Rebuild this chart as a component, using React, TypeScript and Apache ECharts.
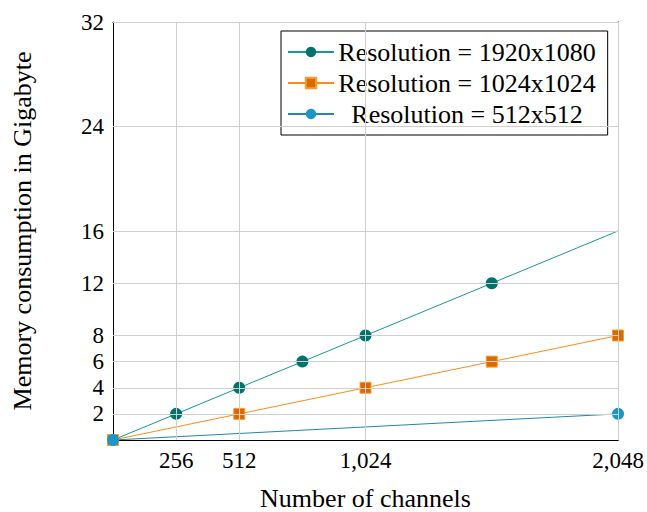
import React, { useEffect, useRef } from "react";
import * as echarts from "echarts";

const channelsHD = [0, 256, 512, 768, 1024, 1536, 2048];
const memoryHD = [0, 2, 4, 6, 8, 12, 16];
const channels1024 = [0, 512, 1024, 1536, 2048];
const memory1024 = [0, 2, 4, 6, 8];
const channels512 = [0, 2048];
const memory512 = [0, 2];

const xTicks = [256, 512, 1024, 2048];
const yTicks = [2, 4, 6, 8, 12, 16, 24, 32];
const seriesNames = [
  "Resolution = 1920x1080",
  "Resolution = 1024x1024",
  "Resolution = 512x512",
];

const FONT = "Liberation Serif";
const WORD_SIZE = 26;
const NUM_SIZE = 23;

export default function App() {
  const ref = useRef<HTMLDivElement>(null);
  useEffect(() => {
    if (!ref.current) return;
    const chart = echarts.init(ref.current, null, { renderer: "svg" });
    const fmtX = (v: number) => v.toLocaleString("en-US");
    const tickStyle = { show: true, inside: true, length: 8, lineStyle: { color: "#777", width: 1 } };
    const xBase = {
      type: "value",
      min: 0,
      max: 2048,
      splitLine: { show: false },
      axisLine: { show: true, onZero: false, lineStyle: { color: "#000", width: 1 } },
      z: 1,
    };
    const yBase = {
      type: "value",
      min: 0,
      max: 32,
      splitLine: { show: false },
      axisLine: { show: true, onZero: false, lineStyle: { color: "#000", width: 1 } },
      z: 1,
    };
    const zip = (xs: number[], ys: number[]) => xs.map((x, i) => [x, ys[i]]);
    const hdData: any[] = zip(channelsHD, memoryHD).map((p, i, arr) =>
      i === arr.length - 1 ? { value: p, symbol: "none" } : p
    );
    chart.setOption({
      animation: false,
      textStyle: { fontFamily: FONT },
      grid: { left: 113, right: 29, top: 22, bottom: 72, containLabel: false, outerBoundsMode: "none" },
      xAxis: [
        {
          ...xBase,
          position: "bottom",
          name: "Number of channels",
          nameLocation: "middle",
          nameGap: 45,
          nameTextStyle: { fontFamily: FONT, fontSize: WORD_SIZE, color: "#000" },
          axisTick: { ...tickStyle, customValues: xTicks },
          axisLabel: {
            customValues: xTicks,
            formatter: fmtX,
            fontFamily: FONT,
            fontSize: NUM_SIZE,
            color: "#000",
            margin: 9,
          },
        },
        {
          ...xBase,
          position: "top",
          axisTick: { ...tickStyle, customValues: xTicks },
          axisLabel: { show: false },
        },
      ],
      yAxis: [
        {
          ...yBase,
          position: "left",
          name: "Memory consumption in Gigabyte",
          nameLocation: "middle",
          nameGap: 78,
          nameTextStyle: { fontFamily: FONT, fontSize: WORD_SIZE, color: "#000" },
          axisTick: { ...tickStyle, customValues: yTicks },
          axisLabel: {
            customValues: yTicks,
            fontFamily: FONT,
            fontSize: NUM_SIZE,
            color: "#000",
            margin: 9,
          },
        },
        {
          ...yBase,
          position: "right",
          axisTick: { ...tickStyle, customValues: yTicks },
          axisLabel: { show: false },
        },
      ],
      legend: {
        data: seriesNames,
        orient: "vertical",
        left: 281,
        top: 31,
        padding: [8, 12, 8, 6],
        itemGap: 5,
        itemWidth: 46,
        itemHeight: 13,
        backgroundColor: "#fff",
        borderColor: "#000",
        borderWidth: 1,
        borderRadius: 0,
        formatter: (name: string) => `{c|${name}}`,
        textStyle: {
          fontFamily: FONT,
          fontSize: WORD_SIZE,
          color: "#000",
          rich: {
            c: { width: 256, height: 25, align: "center", fontFamily: FONT, fontSize: WORD_SIZE, color: "#000" },
          },
        },
      },
      series: [
        {
          type: "line",
          name: "grid",
          data: [],
          z: 0,
          silent: true,
          markLine: {
            silent: true,
            symbol: "none",
            label: { show: false },
            lineStyle: { color: "#cfcfcf", width: 1, type: "solid" },
            data: [
              ...xTicks.map((v) => ({ xAxis: v })),
              ...yTicks.map((v) => ({ yAxis: v })),
            ],
          },
        },
        {
          type: "line",
          name: seriesNames[0],
          data: hdData,
          symbol: "circle",
          symbolSize: 12,
          itemStyle: { color: "#00736c" },
          lineStyle: { color: "#1a9990", width: 1 },
        },
        {
          type: "line",
          name: seriesNames[1],
          data: zip(channels1024, memory1024),
          symbol: "rect",
          symbolSize: 11,
          itemStyle: { color: "#d96a00", borderColor: "#ff9b33", borderWidth: 1 },
          lineStyle: { color: "#ff8c1a", width: 1 },
        },
        {
          type: "line",
          name: seriesNames[2],
          data: zip(channels512, memory512),
          symbol: "circle",
          symbolSize: 12,
          itemStyle: { color: "#1a96c8" },
          lineStyle: { color: "#2585aa", width: 1 },
        },
      ],
    });
    return () => chart.dispose();
  }, []);
  return (
    <div
      ref={ref}
      style={{ position: "fixed", left: 0, top: 0, width: 647, height: 512, background: "#fff" }}
    />
  );
}
